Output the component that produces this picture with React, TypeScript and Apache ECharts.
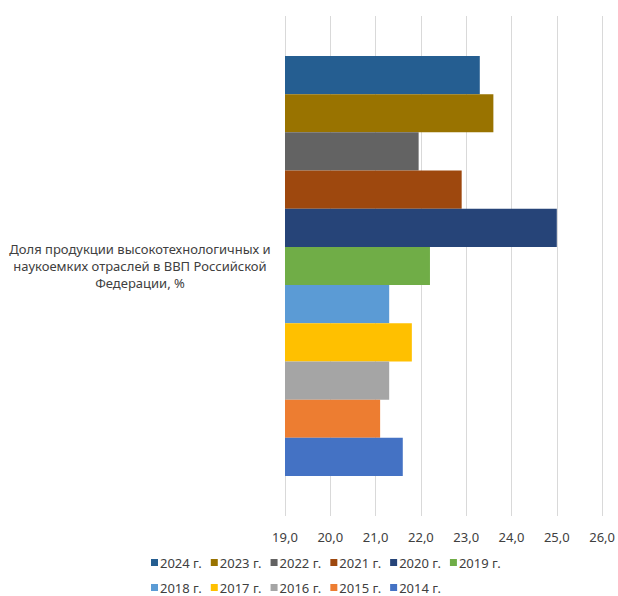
import React, { useEffect, useRef } from "react";
import * as echarts from "echarts";

const categories = ["Доля продукции высокотехнологичных и\nнаукоемких отраслей в ВВП Российской\nФедерации, %"];
const years = ["2024 г.", "2023 г.", "2022 г.", "2021 г.", "2020 г.", "2019 г.", "2018 г.", "2017 г.", "2016 г.", "2015 г.", "2014 г."];
const values = [23.3, 23.6, 21.95, 22.9, 25.0, 22.2, 21.3, 21.8, 21.3, 21.1, 21.6];
const colors = ["#255E91", "#997300", "#636363", "#9E480E", "#264478", "#70AD47", "#5B9BD5", "#FFC000", "#A5A5A5", "#ED7D31", "#4472C4"];
const legendRow1 = ["2024 г.", "2023 г.", "2022 г.", "2021 г.", "2020 г.", "2019 г."];
const legendRow2 = ["2018 г.", "2017 г.", "2016 г.", "2015 г.", "2014 г."];

export default function App() {
  const ref = useRef<HTMLDivElement>(null);
  useEffect(() => {
    if (!ref.current) return;
    const chart = echarts.init(ref.current, undefined, { renderer: "svg" });
    const font = "Noto Sans";
    const legendBase = {
      left: 146,
      itemWidth: 7,
      itemHeight: 7,
      itemGap: 9,
      icon: "rect",
      textStyle: { color: "#404040", fontSize: 13, fontFamily: font, padding: [0, 0, 0, -3] },
    };
    chart.setOption({
      animation: false,
      textStyle: { fontFamily: font },
      grid: { left: 285, right: 7, top: 16, bottom: 80 },
      xAxis: {
        type: "value",
        min: 19,
        max: 26,
        interval: 1,
        axisLine: { show: false },
        axisTick: { show: false },
        splitLine: { show: true, lineStyle: { color: "#d9d9d9", width: 1 } },
        axisLabel: {
          color: "#404040",
          fontSize: 13,
          fontFamily: font,
          margin: 14,
          formatter: (v: number) => v.toFixed(1).replace(".", ","),
        },
      },
      yAxis: {
        type: "category",
        data: categories,
        axisLine: { show: false },
        axisTick: { show: false },
        axisLabel: {
          color: "#404040",
          fontSize: 13,
          fontFamily: font,
          align: "center",
          margin: 145,
          lineHeight: 17,
        },
      },
      legend: [
        { ...legendBase, data: legendRow1, top: 551 },
        { ...legendBase, data: legendRow2, top: 576 },
      ],
      series: years.map((y, i) => ({
        name: y,
        type: "bar",
        data: [values[i]],
        itemStyle: { color: colors[i] },
        barGap: "0%",
        barCategoryGap: "16%",
      })),
    });
    return () => chart.dispose();
  }, []);
  return <div ref={ref} style={{ width: 618, height: 596, position: "absolute", left: 0, top: 0 }} />;
}
